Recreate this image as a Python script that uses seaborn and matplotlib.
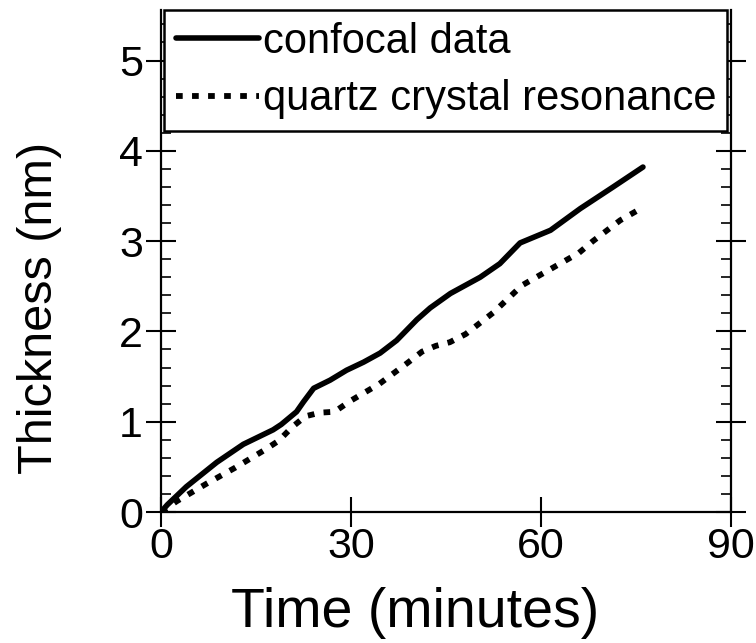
import matplotlib
matplotlib.use("Agg")
import matplotlib.pyplot as plt
import seaborn as sns
import pandas as pd
from matplotlib.ticker import MultipleLocator

# Data
confocal_t = [0, 1, 4, 8.8, 13, 17.7, 19, 21.4, 22.5, 24.1, 26.7, 29.3, 32, 34.6,
              37.2, 40.4, 42.5, 45.7, 50.4, 53.5, 56.7, 61.5, 66.2, 71.4, 76.1]
confocal_v = [0, 0.08, 0.28, 0.55, 0.75, 0.91, 0.97, 1.11, 1.22, 1.37, 1.46, 1.57,
              1.66, 1.76, 1.90, 2.13, 2.26, 2.42, 2.60, 2.75, 2.98, 3.12, 3.36, 3.60, 3.82]

quartz_t = [0, 2.5, 7.1, 11.7, 16.2, 18.6, 20.7, 22.8, 25.1, 27.4, 29.9, 34.5,
            38.9, 41.2, 43.4, 45.6, 48.1, 52.5, 57.0, 61.5, 66.0, 68.2, 72.5, 75.5]
quartz_v = [0, 0.12, 0.31, 0.49, 0.68, 0.79, 0.94, 1.06, 1.10, 1.11, 1.23, 1.42,
            1.65, 1.775, 1.84, 1.88, 1.97, 2.21, 2.51, 2.69, 2.87, 3.00, 3.23, 3.35]

labels = ["confocal data", "quartz crystal resonance"]
x_ticks = [0, 30, 60, 90]
y_ticks = [0, 1, 2, 3, 4, 5]

sns.set_style("ticks")
plt.rcParams['font.family'] = ['Liberation Sans', 'DejaVu Sans']
plt.rcParams['text.color'] = 'black'
plt.rcParams['axes.labelcolor'] = 'black'
plt.rcParams['xtick.color'] = 'black'
plt.rcParams['ytick.color'] = 'black'

fig = plt.figure(figsize=(7.56, 6.43), dpi=100)
ax = fig.add_axes([161/756, 1 - 512/643, (731-161)/756, (512-10)/643])

df_c = pd.DataFrame({"t": confocal_t, "v": confocal_v})
df_q = pd.DataFrame({"t": quartz_t, "v": quartz_v})

DOTS = (0, (1.15, 1.6))

sns.lineplot(data=df_c, x="t", y="v", ax=ax, color="black", lw=4.0,
             label=labels[0], sort=False, solid_capstyle="round")
sns.lineplot(data=df_q, x="t", y="v", ax=ax, color="black", lw=4.2,
             label=labels[1], sort=False, dashes=False)
ln = ax.get_lines()[1]
ln.set_linestyle(DOTS)
ln.set_dash_capstyle("butt")

ax.set_xlim(0, 90)
ax.set_ylim(0, (512-10)/90.3)
ax.set_xticks(x_ticks)
ax.set_yticks(y_ticks)
ax.yaxis.set_minor_locator(MultipleLocator(0.2))

for s in ["left", "bottom", "right"]:
    ax.spines[s].set_linewidth(1.6)
    ax.spines[s].set_color("black")
ax.spines["top"].set_visible(False)

ax.tick_params(axis="both", which="major", direction="inout", length=22, width=1.5,
               labelsize=31, pad=2, colors="black")
ax.tick_params(axis="y", which="major", right=True, left=True)
ax.tick_params(axis="y", which="minor", direction="in", length=7, width=1.2,
               right=True, left=True)
ax.tick_params(axis="x", which="major", pad=0)

ax.set_xlabel("Time (minutes)", fontsize=40)
ax.xaxis.set_label_coords((415-161)/570, -0.15)
ax.xaxis.label.set_verticalalignment("top")
ax.set_ylabel("Thickness (nm)", fontsize=35)
ax.yaxis.set_label_coords((62-161)/570, (512-308)/502)

leg = ax.legend(loc="upper left", bbox_to_anchor=(0.005, 1.0, 0.988, 0.0),
                mode="expand", borderaxespad=0, fontsize=30, frameon=True,
                fancybox=False, edgecolor="black", framealpha=1,
                handlelength=2.0, handletextpad=0.1, borderpad=0.28,
                labelspacing=0.42)
leg.get_frame().set_linewidth(1.8)
leg.get_lines()[0].set_linewidth(4.0)
leg.get_lines()[1].set_linestyle(DOTS)
leg.get_lines()[1].set_linewidth(4.2)

fig.savefig("out.png", dpi=100)
